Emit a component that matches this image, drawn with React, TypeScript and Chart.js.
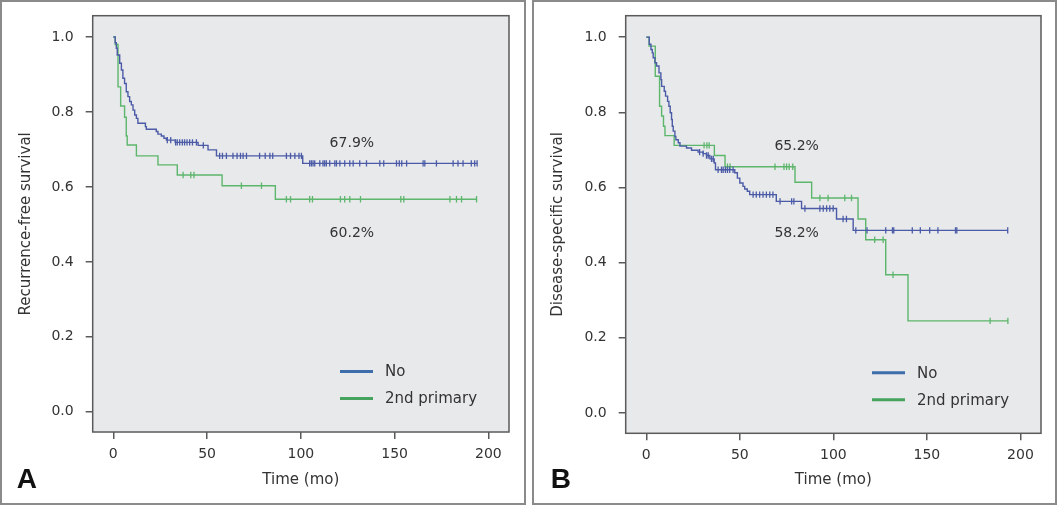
import React, { useEffect, useRef } from "react";
import { Chart, registerables } from "chart.js";

Chart.register(...registerables);

// ---------- shared axis / legend data ----------
const xTicks = [0, 50, 100, 150, 200];
const yTicks = [0, 0.2, 0.4, 0.6, 0.8, 1.0];
const seriesNames = ["No", "2nd primary"];

// ---------- Panel A: recurrence-free survival ----------
const rfsNoTimes = [0, 1.0, 1.6, 2.1, 3.4, 4.3, 5.1, 6.0, 6.9, 7.8, 8.7, 9.6, 10.5, 11.4, 12.3, 13.1, 17.1, 17.6, 22.9, 23.8, 25.6, 27.0, 28.3, 33.0, 45.2, 50.5, 55.0, 101.0];
const rfsNoSurv = [1.0, 0.985, 0.97, 0.952, 0.93, 0.912, 0.89, 0.876, 0.854, 0.841, 0.828, 0.819, 0.805, 0.792, 0.783, 0.77, 0.761, 0.754, 0.748, 0.741, 0.736, 0.73, 0.725, 0.719, 0.711, 0.699, 0.683, 0.663];
const rfsNoCensor = [28.8, 30.6, 33.2, 34.1, 35.4, 36.8, 38.0, 39.3, 40.7, 42.2, 44.3, 48.0, 56.7, 58.2, 60.3, 63.8, 66.0, 67.8, 69.2, 71.0, 78.0, 81.0, 83.5, 85.0, 92.3, 94.5, 96.8, 99.0, 100.3, 104.7, 105.6, 106.5, 107.4, 110.1, 111.8, 112.7, 113.6, 115.4, 118.1, 119.0, 120.8, 123.4, 126.1, 127.9, 131.4, 135.0, 142.1, 144.2, 151.0, 152.5, 153.8, 156.4, 165.2, 166.1, 172.3, 181.2, 183.8, 186.5, 190.9, 192.7, 194.0];

const rfs2ndTimes = [0, 1.0, 2.5, 3.9, 6.0, 6.9, 7.4, 12.3, 23.8, 34.1, 58.0, 86.4];
const rfs2ndSurv = [1.0, 0.98, 0.867, 0.816, 0.786, 0.736, 0.712, 0.683, 0.659, 0.632, 0.603, 0.567];
const rfs2ndCensor = [37.2, 41.3, 43.0, 68.3, 79.0, 92.3, 94.5, 104.7, 106.2, 121.1, 123.4, 126.1, 131.8, 153.3, 154.9, 179.5, 183.0, 185.7, 193.7];

// ---------- Panel B: disease-specific survival ----------
const dssNoTimes = [0, 1.6, 2.5, 3.2, 3.7, 4.6, 5.5, 6.8, 7.8, 8.2, 9.6, 10.3, 11.4, 12.1, 12.8, 13.5, 13.9, 14.4, 15.3, 15.8, 17.1, 18.0, 21.5, 24.2, 27.7, 30.4, 32.2, 34.0, 36.3, 37.0, 47.3, 48.7, 50.0, 51.7, 52.6, 54.0, 55.3, 69.5, 83.0, 101.7, 110.6];
const dssNoSurv = [1.0, 0.981, 0.967, 0.958, 0.945, 0.932, 0.923, 0.905, 0.887, 0.869, 0.856, 0.843, 0.829, 0.816, 0.799, 0.781, 0.763, 0.75, 0.736, 0.727, 0.719, 0.71, 0.705, 0.699, 0.694, 0.69, 0.685, 0.676, 0.665, 0.647, 0.639, 0.625, 0.612, 0.603, 0.596, 0.59, 0.581, 0.563, 0.544, 0.516, 0.486];
const dssNoCensor = [28.5, 30.4, 32.2, 33.1, 34.9, 35.8, 38.4, 40.2, 41.1, 42.3, 43.4, 44.6, 46.4, 57.1, 58.8, 60.6, 62.4, 64.2, 66.0, 67.7, 71.5, 77.7, 78.9, 84.8, 92.8, 94.6, 96.4, 98.1, 99.9, 105.2, 107.0, 112.0, 118.0, 128.0, 131.6, 132.3, 142.2, 146.5, 151.5, 155.9, 165.3, 166.0, 193.2];

const dss2ndTimes = [0, 1.5, 4.8, 7.1, 8.2, 9.2, 10.0, 14.9, 36.4, 42.1, 79.5, 88.4, 113.2, 117.3, 128.0, 139.9];
const dss2ndSurv = [1.0, 0.976, 0.896, 0.816, 0.79, 0.763, 0.738, 0.712, 0.685, 0.655, 0.614, 0.572, 0.516, 0.461, 0.368, 0.245];
const dss2ndCensor = [30.9, 32.4, 33.6, 43.4, 44.8, 68.8, 73.6, 75.0, 76.4, 78.3, 92.8, 97.2, 106.1, 109.7, 122.1, 126.6, 131.9, 183.8, 193.3];

// ---------- annotations ----------
const rfsLabels = ["67.9%", "60.2%"];
const rfsLabelX = [127.2, 127.2];
const rfsLabelY = [0.717, 0.477];
const dssLabels = ["65.2%", "58.2%"];
const dssLabelX = [80.4, 80.4];
const dssLabelY = [0.71, 0.479];

// ---------- styles ----------
const curveColors = ["#4b5ba7", "#5cb66b"];
const legendColors = ["#3d6dab", "#45a35e"];
const FONT = '"DejaVu Sans", sans-serif';
const TEXT = "#333333";
const FRAME = "#5a5a5a";

type Pt = { x: number; y: number; c: boolean };

function buildCurve(times: number[], surv: number[], censors: number[]): Pt[] {
  const pts: Pt[] = times.map((t, i) => ({ x: t, y: surv[i], c: false }));
  censors.forEach((t) => {
    let s = surv[0];
    for (let i = 0; i < times.length; i++) if (times[i] <= t) s = surv[i];
    pts.push({ x: t, y: s, c: true });
  });
  pts.sort((a, b) => a.x - b.x || (a.c === b.c ? 0 : a.c ? 1 : -1));
  return pts;
}

const decorPlugin = {
  id: "decor",
  beforeDraw(chart: any) {
    const { ctx, chartArea } = chart;
    ctx.save();
    ctx.fillStyle = "#e8e9eb";
    ctx.fillRect(chartArea.left, chartArea.top, chartArea.right - chartArea.left, chartArea.bottom - chartArea.top);
    ctx.restore();
  },
  afterDraw(chart: any, _args: any, opts: any) {
    const { ctx, chartArea } = chart;
    const { left, top, right, bottom } = chartArea;
    ctx.save();
    // plot frame
    ctx.strokeStyle = FRAME;
    ctx.lineWidth = 1.5;
    ctx.strokeRect(left, top, right - left, bottom - top);

    // legend
    const offs = [60.5, 33.5];
    seriesNames.forEach((name, i) => {
      const y = bottom - offs[i];
      const x0 = right - 169;
      ctx.strokeStyle = legendColors[i];
      ctx.lineWidth = 3;
      ctx.beginPath();
      ctx.moveTo(x0, y);
      ctx.lineTo(x0 + 33, y);
      ctx.stroke();
      ctx.fillStyle = TEXT;
      ctx.font = "15px " + FONT;
      ctx.textAlign = "left";
      ctx.textBaseline = "middle";
      ctx.fillText(name, x0 + 45, y + 1);
    });

    // percent annotations
    const xs = chart.scales.x;
    const ys = chart.scales.y;
    ctx.font = "14px " + FONT;
    ctx.fillStyle = TEXT;
    ctx.textAlign = "center";
    ctx.textBaseline = "middle";
    (opts.labels as string[]).forEach((t, i) => {
      ctx.fillText(t, xs.getPixelForValue(opts.labelX[i]), ys.getPixelForValue(opts.labelY[i]));
    });

    // panel letter
    ctx.font = 'bold 28px "Liberation Sans", Arial, sans-serif';
    ctx.fillStyle = "#111111";
    ctx.textAlign = "left";
    ctx.textBaseline = "alphabetic";
    ctx.fillText(opts.letter, opts.letterX, opts.letterY);
    ctx.restore();
  },
};

type PanelProps = {
  left: number;
  width: number;
  canvasW: number;
  plotLeft: number;
  plotRight: number;
  plotBottom: number;
  yTitle: string;
  letter: string;
  letterX: number;
  noCurve: Pt[];
  secondCurve: Pt[];
  labels: string[];
  labelX: number[];
  labelY: number[];
};

const CANVAS_H = 501;
const PLOT_TOP = 13.7;

function Panel(p: PanelProps) {
  const ref = useRef<HTMLCanvasElement | null>(null);
  useEffect(() => {
    if (!ref.current) return;
    const curves = [p.noCurve, p.secondCurve];
    const chart = new Chart(ref.current, {
      type: "line",
      data: {
        datasets: seriesNames.map((name, i) => ({
          label: name,
          data: curves[i] as any,
          borderColor: curveColors[i],
          backgroundColor: curveColors[i],
          borderWidth: 1.4,
          stepped: "before" as const,
          fill: false,
          pointStyle: "line" as const,
          rotation: 90,
          pointRadius: (c: any) => (c.raw && c.raw.c ? 3.2 : 0),
          pointHoverRadius: 0,
          pointBorderColor: curveColors[i],
          pointBorderWidth: 1.3,
        })),
      },
      options: {
        animation: false,
        responsive: false,
        devicePixelRatio: 1,
        layout: {
          padding: { left: 0, top: PLOT_TOP, right: p.canvasW - p.plotRight, bottom: 0 },
        },
        scales: {
          x: {
            type: "linear",
            min: -11,
            max: 211,
            afterBuildTicks: (s: any) => {
              s.ticks = xTicks.map((v) => ({ value: v }));
            },
            afterFit: (s: any) => {
              s.height = CANVAS_H - p.plotBottom;
              s.paddingLeft = 0;
              s.paddingRight = 0;
            },
            grid: { drawOnChartArea: false, drawTicks: true, tickLength: 7, color: FRAME, lineWidth: 1.5 },
            border: { display: false },
            ticks: { color: TEXT, font: { family: FONT, size: 14 }, padding: 7, maxRotation: 0, autoSkip: false },
            title: {
              display: true,
              text: "Time (mo)",
              color: TEXT,
              font: { family: FONT, size: 15 },
              padding: { top: 0, bottom: 14 },
            },
          },
          y: {
            type: "linear",
            min: -0.054,
            max: 1.057,
            afterBuildTicks: (s: any) => {
              s.ticks = yTicks.map((v) => ({ value: v }));
            },
            afterFit: (s: any) => {
              s.width = p.plotLeft;
              s.paddingTop = 0;
              s.paddingBottom = 0;
            },
            grid: { drawOnChartArea: false, drawTicks: true, tickLength: 7, color: FRAME, lineWidth: 1.5 },
            border: { display: false },
            ticks: {
              color: TEXT,
              font: { family: FONT, size: 14 },
              padding: 12,
              callback: (v: any) => Number(v).toFixed(1),
            },
            title: {
              display: true,
              text: p.yTitle,
              color: TEXT,
              font: { family: FONT, size: 15 },
              padding: { top: 15, bottom: 0 },
            },
          },
        },
        plugins: {
          legend: { display: false },
          tooltip: { enabled: false },
          decor: {
            labels: p.labels,
            labelX: p.labelX,
            labelY: p.labelY,
            letter: p.letter,
            letterX: p.letterX,
            letterY: 486,
          },
        } as any,
      },
      plugins: [decorPlugin as any],
    });
    return () => chart.destroy();
  }, []);

  return (
    <div
      style={{
        position: "absolute",
        left: p.left,
        top: 0,
        width: p.width,
        height: 505,
        border: "2px solid #8a8a8a",
        boxSizing: "border-box",
        background: "#ffffff",
      }}
    >
      <canvas ref={ref} width={p.canvasW} height={CANVAS_H} style={{ display: "block", width: p.canvasW, height: CANVAS_H }} />
    </div>
  );
}

export default function App() {
  const rfsNo = buildCurve(rfsNoTimes, rfsNoSurv, rfsNoCensor);
  const rfs2nd = buildCurve(rfs2ndTimes, rfs2ndSurv, rfs2ndCensor);
  const dssNo = buildCurve(dssNoTimes, dssNoSurv, dssNoCensor);
  const dss2nd = buildCurve(dss2ndTimes, dss2ndSurv, dss2ndCensor);
  return (
    <div style={{ position: "absolute", left: 0, top: 0, width: 1057, height: 506, background: "#ffffff" }}>
      <Panel
        left={0}
        width={526}
        canvasW={522}
        plotLeft={90.7}
        plotRight={507}
        plotBottom={430}
        yTitle="Recurrence-free survival"
        letter="A"
        letterX={14.7}
        noCurve={rfsNo}
        secondCurve={rfs2nd}
        labels={rfsLabels}
        labelX={rfsLabelX}
        labelY={rfsLabelY}
      />
      <Panel
        left={532}
        width={525}
        canvasW={521}
        plotLeft={91.7}
        plotRight={507}
        plotBottom={431.3}
        yTitle="Disease-specific survival"
        letter="B"
        letterX={16.7}
        noCurve={dssNo}
        secondCurve={dss2nd}
        labels={dssLabels}
        labelX={dssLabelX}
        labelY={dssLabelY}
      />
    </div>
  );
}
